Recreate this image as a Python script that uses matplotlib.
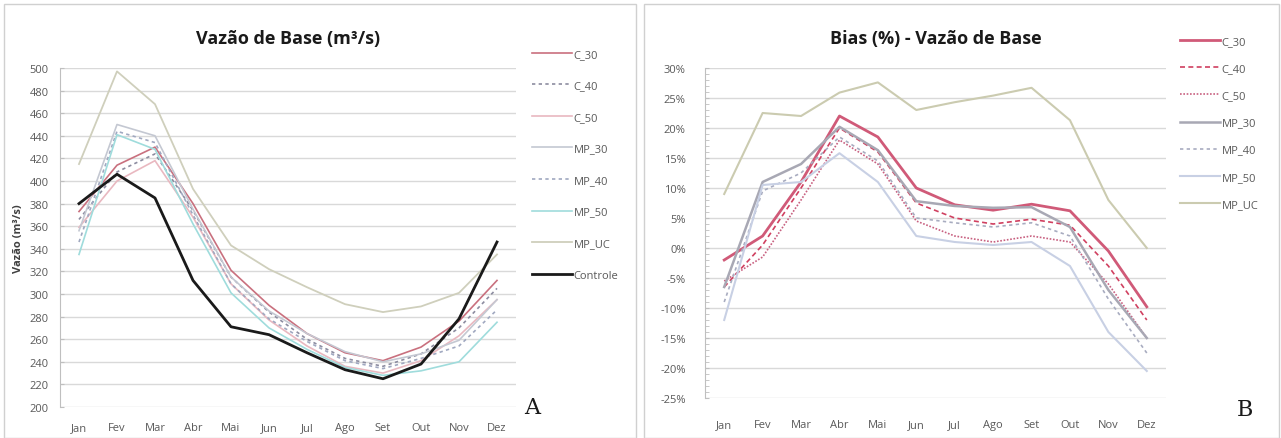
import numpy as np
import matplotlib
matplotlib.use('Agg')
from matplotlib import pyplot as plt
from matplotlib import patches
from matplotlib.ticker import MultipleLocator, FuncFormatter

plt.rcParams['font.family'] = ['Open Sans', 'DejaVu Sans']

months = ['Jan', 'Fev', 'Mar', 'Abr', 'Mai', 'Jun', 'Jul', 'Ago', 'Set', 'Out', 'Nov', 'Dez']

# Vazao de base (m3/s)
q_c30 = [373, 414, 430, 380, 321, 290, 265, 248, 241, 253, 276, 312]
q_c40 = [366, 408, 424, 374, 315, 284, 260, 243, 236, 247, 270, 305]
q_c50 = [359, 400, 418, 368, 309, 277, 254, 236, 230, 241, 263, 295]
q_mp30 = [356, 450, 440, 375, 315, 285, 265, 249, 240, 247, 259, 295]
q_mp40 = [346, 444, 434, 370, 309, 278, 258, 241, 234, 243, 254, 286]
q_mp50 = [335, 441, 428, 362, 301, 270, 251, 235, 228, 232, 240, 275]
q_mpuc = [415, 497, 468, 393, 343, 322, 306, 291, 284, 289, 301, 335]
q_ctrl = [380, 406, 385, 312, 271, 264, 248, 233, 225, 238, 278, 346]

# Bias (%)
b_c30 = [-2.0, 2.0, 11.0, 22.0, 18.5, 10.0, 7.2, 6.3, 7.3, 6.2, -0.5, -9.8]
b_c40 = [-6.5, 0.5, 10.0, 20.0, 16.0, 7.5, 5.0, 4.0, 4.8, 3.8, -3.0, -12.0]
b_c50 = [-5.5, -1.5, 8.0, 18.0, 14.0, 4.5, 2.0, 1.0, 2.0, 1.0, -6.0, -15.0]
b_mp30 = [-6.5, 11.0, 14.0, 20.2, 16.3, 7.8, 7.0, 6.7, 6.8, 3.5, -7.0, -15.0]
b_mp40 = [-9.0, 9.5, 12.5, 18.5, 14.5, 5.0, 4.2, 3.5, 4.2, 2.0, -8.5, -17.5]
b_mp50 = [-12.0, 10.5, 11.0, 15.8, 11.0, 2.0, 1.0, 0.5, 1.0, -3.0, -14.0, -20.5]
b_mpuc = [9.0, 22.5, 22.0, 25.9, 27.6, 23.0, 24.3, 25.4, 26.7, 21.3, 8.0, 0.0]

W, H = 1281, 439
fig = plt.figure(figsize=(W / 100, H / 100), dpi=100)

def box(l, t, r, b):
    return [l / W, 1 - b / H, (r - l) / W, (b - t) / H]

# chart frames (Excel style)
for l, r in [(4, 636), (644, 1279)]:
    fig.add_artist(patches.Rectangle((l / W, 0), (r - l) / W, 1 - 5 / H,
                                     transform=fig.transFigure, fill=False,
                                     edgecolor='#d0d0d0', linewidth=1))

grid_c = '#d9d9d9'
tick_c = '#595959'
x = np.arange(len(months))

def style(ax, xpad, ypad):
    ax.set_xlim(-0.5, 11.5)
    ax.set_xticks(x)
    ax.set_xticklabels(months)
    ax.grid(axis='y', color=grid_c, linewidth=1)
    ax.set_axisbelow(True)
    for s in ['top', 'right', 'bottom']:
        ax.spines[s].set_visible(False)
    ax.spines['left'].set_color('#bfbfbf')
    ax.tick_params(axis='x', labelsize=8, colors=tick_c, length=0, pad=xpad)
    ax.tick_params(axis='y', which='both', labelsize=8, colors=tick_c, length=3,
                   color='#bfbfbf', direction='in', pad=ypad)

# ---- panel A
ax = fig.add_axes(box(60, 69, 516, 408))
ax.plot(x, q_c30, color='#c9707e', lw=1.2, label='C_30')
ax.plot(x, q_c40, color='#8c8ca0', lw=1.2, ls=(0, (2, 2)), label='C_40')
ax.plot(x, q_c50, color='#e9b8c0', lw=1.2, label='C_50')
ax.plot(x, q_mp30, color='#c4c8d2', lw=1.2, label='MP_30')
ax.plot(x, q_mp40, color='#a0a8c0', lw=1.2, ls=(0, (2, 2)), label='MP_40')
ax.plot(x, q_mp50, color='#9fdcdc', lw=1.2, label='MP_50')
ax.plot(x, q_mpuc, color='#cfcfbc', lw=1.3, label='MP_UC')
ax.plot(x, q_ctrl, color='#1a1a1a', lw=2.0, label='Controle')
ax.set_ylim(200, 500)
ax.yaxis.set_major_locator(MultipleLocator(20))
style(ax, 11, 8)
ax.set_ylabel('Vazão (m³/s)', fontsize=8, color='#404040', fontweight='bold', labelpad=4)
ax.set_title('Vazão de Base (m³/s)', fontsize=13, fontweight='bold', color='#1a1a1a', pad=18)
ax.legend(loc='upper left', bbox_to_anchor=((528 - 60) / 456, 1.07), frameon=False,
          fontsize=8, labelcolor='#595959', handlelength=3.6, handletextpad=0.1,
          labelspacing=1.85, borderaxespad=0)
ax.text((532 - 60) / 456, 0.0, 'A', transform=ax.transAxes, fontsize=16,
        family='DejaVu Serif', color='#1a1a1a', ha='center', va='center')

# ---- panel B
bx = fig.add_axes(box(705, 69, 1166, 399))
bx.plot(x, b_c30, color='#d05a78', lw=2.0, label='C_30')
bx.plot(x, b_c40, color='#d04060', lw=1.2, ls=(0, (3, 2)), label='C_40')
bx.plot(x, b_c50, color='#c86080', lw=1.2, ls=(0, (1, 1)), label='C_50')
bx.plot(x, b_mp30, color='#a8a8b4', lw=1.8, label='MP_30')
bx.plot(x, b_mp40, color='#a8acc0', lw=1.2, ls=(0, (2, 2)), label='MP_40')
bx.plot(x, b_mp50, color='#c8d0e4', lw=1.5, label='MP_50')
bx.plot(x, b_mpuc, color='#cbcbb0', lw=1.5, label='MP_UC')
bx.set_ylim(-25, 30)
bx.yaxis.set_major_locator(MultipleLocator(5))
bx.yaxis.set_minor_locator(MultipleLocator(1))
bx.yaxis.set_major_formatter(FuncFormatter(lambda v, p: '%d%%' % round(v)))
style(bx, 15, 14)
bx.set_title('Bias (%) - Vazão de Base', fontsize=13, fontweight='bold', color='#1a1a1a', pad=18)
bx.legend(loc='upper left', bbox_to_anchor=((1176 - 705) / 461, 1.11), frameon=False,
          fontsize=8, labelcolor='#595959', handlelength=3.6, handletextpad=0.1,
          labelspacing=1.45, borderaxespad=0)
bx.text((1245 - 705) / 461, -11 / 330, 'B', transform=bx.transAxes, fontsize=16,
        family='DejaVu Serif', color='#1a1a1a', ha='center', va='center')

fig.savefig('out.png', dpi=100)
